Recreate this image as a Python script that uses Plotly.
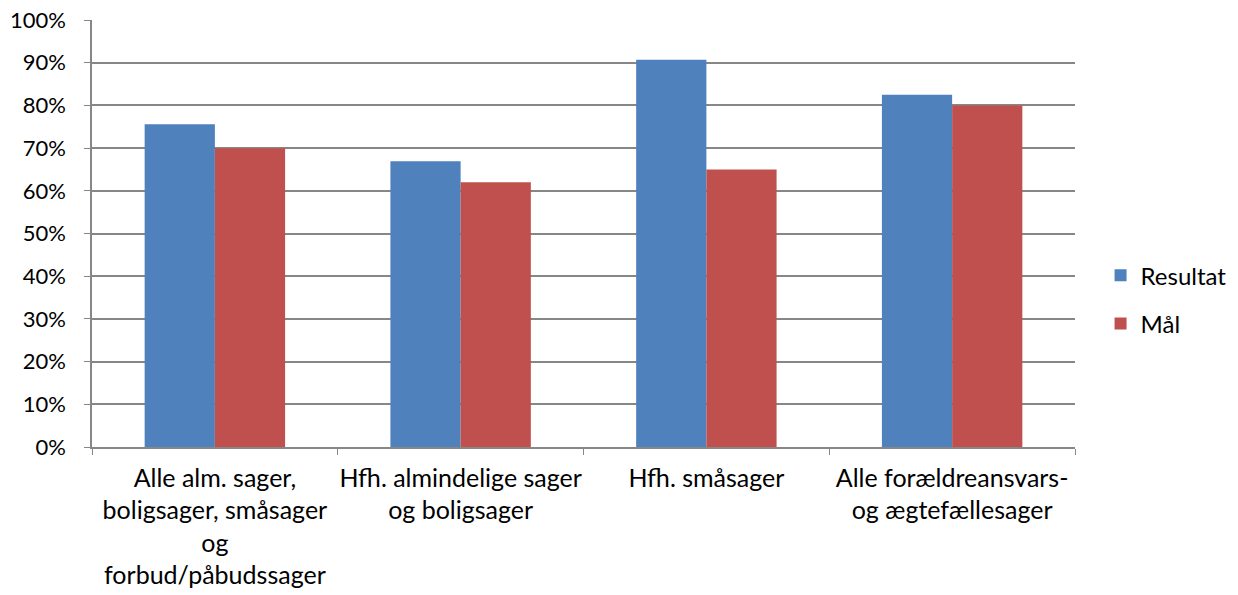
import plotly.graph_objects as go

categories = [
    "Alle alm. sager,<br>boligsager, småsager<br>og<br>forbud/påbudssager",
    "Hfh. almindelige sager<br>og boligsager",
    "Hfh. småsager",
    "Alle forældreansvars-<br>og ægtefællesager",
]
resultat = [0.756, 0.669, 0.907, 0.825]
maal = [0.70, 0.62, 0.65, 0.80]
y_ticks = [i / 10 for i in range(11)]
y_tick_labels = [f"{i*10}%" for i in range(11)]

FONT = "Lato"

fig = go.Figure()
fig.add_trace(go.Bar(name="Resultat", x=categories, y=resultat,
                     marker_color="#4F81BD", marker_line_width=0,
                     legendgroup="a"))
fig.add_trace(go.Bar(name="Mål", x=categories, y=maal,
                     marker_color="#C0504D", marker_line_width=0,
                     legendgroup="b"))

# page body has an 8px default margin, compensate in layout margins
fig.update_layout(
    width=1238, height=595,
    margin=dict(l=84, r=171, t=12, b=156, autoexpand=False),
    paper_bgcolor="white", plot_bgcolor="white",
    barmode="group", bargap=0.4286, bargroupgap=0,
    font=dict(family=FONT, size=24, color="black"),
    legend=dict(x=1.026, y=0.345, xanchor="left", yanchor="middle",
                traceorder="grouped", tracegroupgap=14,
                font=dict(size=24)),
    showlegend=True,
)
fig.update_yaxes(range=[0, 1.0001], tickvals=y_ticks, ticktext=y_tick_labels,
                 showgrid=True, gridcolor="#878787", gridwidth=1.5,
                 showline=True, linecolor="#878787", linewidth=1.5,
                 ticks="outside", ticklen=6, tickcolor="#878787",
                 zeroline=False, tickfont=dict(size=22), ticklabelstandoff=14,
                 automargin=False, ticklabeloverflow="allow")
fig.update_xaxes(showline=True, linecolor="#878787", linewidth=1.5,
                 ticks="outside", ticklen=6, tickcolor="#878787",
                 tickson="boundaries", tickfont=dict(size=25), tickangle=0,
                 showgrid=False, automargin=False, ticklabelstandoff=8,
                 ticklabeloverflow="allow")

fig.write_html("out.html")
